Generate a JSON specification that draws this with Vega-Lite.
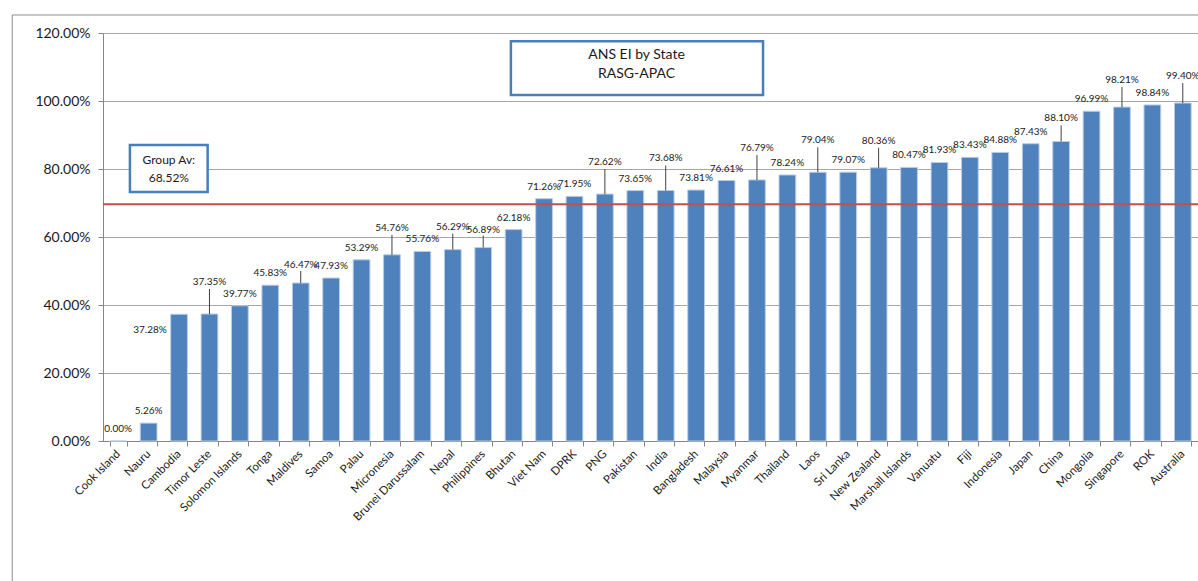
{
  "$schema": "https://vega.github.io/schema/vega-lite/v6.json",
  "autosize": "none",
  "width": 1095,
  "height": 408,
  "padding": {"left": 103, "top": 33, "right": 0, "bottom": 140},
  "background": "white",
  "config": {
    "view": {"stroke": null},
    "font": "Lato",
    "axis": {"labelFont": "Lato", "labelColor": "#1a1a1a"}
  },
  "data": {
    "values": [
      {"state": "Cook Island", "ei": 0.0},
      {"state": "Nauru", "ei": 0.0526},
      {"state": "Cambodia", "ei": 0.3728},
      {"state": "Timor Leste", "ei": 0.3735},
      {"state": "Solomon Islands", "ei": 0.3977},
      {"state": "Tonga", "ei": 0.4583},
      {"state": "Maldives", "ei": 0.4647},
      {"state": "Samoa", "ei": 0.4793},
      {"state": "Palau", "ei": 0.5329},
      {"state": "Micronesia", "ei": 0.5476},
      {"state": "Brunei Darussalam", "ei": 0.5576},
      {"state": "Nepal", "ei": 0.5629},
      {"state": "Philippines", "ei": 0.5689},
      {"state": "Bhutan", "ei": 0.6218},
      {"state": "Viet Nam", "ei": 0.7126},
      {"state": "DPRK", "ei": 0.7195},
      {"state": "PNG", "ei": 0.7262},
      {"state": "Pakistan", "ei": 0.7365},
      {"state": "India", "ei": 0.7368},
      {"state": "Bangladesh", "ei": 0.7381},
      {"state": "Malaysia", "ei": 0.7661},
      {"state": "Myanmar", "ei": 0.7679},
      {"state": "Thailand", "ei": 0.7824},
      {"state": "Laos", "ei": 0.7904},
      {"state": "Sri Lanka", "ei": 0.7907},
      {"state": "New Zealand", "ei": 0.8036},
      {"state": "Marshall Islands", "ei": 0.8047},
      {"state": "Vanuatu", "ei": 0.8193},
      {"state": "Fiji", "ei": 0.8343},
      {"state": "Indonesia", "ei": 0.8488},
      {"state": "Japan", "ei": 0.8743},
      {"state": "China", "ei": 0.881},
      {"state": "Mongolia", "ei": 0.9699},
      {"state": "Singapore", "ei": 0.9821},
      {"state": "ROK", "ei": 0.9884},
      {"state": "Australia", "ei": 0.994}
    ]
  },
  "resolve": {"scale": {"x": "independent"}},
  "layer": [
    {
      "encoding": {
        "x": {
          "field": "state", "type": "nominal", "sort": null, "title": null,
          "scale": {"paddingInner": 0.45, "paddingOuter": 0.225},
          "axis": {
            "title": null, "labelAngle": -45, "labelAlign": "right", "labelBaseline": "middle",
            "labelFontSize": 11.5, "labelPadding": 6, "tickBand": "extent", "tickSize": 5,
            "tickColor": "#868686", "domainColor": "#868686", "labelOverlap": false
          }
        },
        "y": {
          "field": "ei", "type": "quantitative", "title": null,
          "scale": {"domain": [0, 1.2], "nice": false},
          "axis": {
            "title": null, "format": ".2%", "values": [0, 0.2, 0.4, 0.6, 0.8, 1.0, 1.2],
            "labelFontSize": 14, "labelPadding": 8, "tickSize": 5, "tickColor": "#868686",
            "domainColor": "#868686", "gridColor": "#a6a6a6", "grid": true
          }
        }
      },
      "layer": [
        {
          "mark": {"type": "bar", "color": "#4f81bd", "stroke": "#b9cde5", "strokeWidth": 1}
        },
        {
          "transform": [{"filter": {"not": {"field": "state", "oneOf": ["Cambodia", "Timor Leste", "PNG", "India", "Myanmar", "Laos", "Micronesia", "New Zealand", "Singapore", "Australia", "Nepal", "China", "Maldives", "Philippines"]}}}],
          "mark": {"type": "text", "fontSize": 10, "dy": -12, "baseline": "middle", "color": "#1a1a1a"},
          "encoding": {"text": {"field": "ei", "type": "quantitative", "format": ".2%"}}
        },
        {
          "transform": [{"filter": {"field": "state", "oneOf": ["Cambodia"]}}],
          "mark": {"type": "text", "fontSize": 10, "dy": 16, "dx": -29, "baseline": "middle", "color": "#1a1a1a"},
          "encoding": {"text": {"field": "ei", "type": "quantitative", "format": ".2%"}}
        },
        {
          "transform": [{"filter": {"field": "state", "oneOf": ["Timor Leste", "PNG", "India", "Myanmar", "Laos"]}}],
          "mark": {"type": "text", "fontSize": 10, "dy": -32, "baseline": "middle", "color": "#1a1a1a"},
          "encoding": {"text": {"field": "ei", "type": "quantitative", "format": ".2%"}}
        },
        {
          "transform": [{"filter": {"field": "state", "oneOf": ["Timor Leste", "PNG", "India", "Myanmar", "Laos"]}}],
          "mark": {"type": "rule", "color": "#404040", "strokeWidth": 1, "y2Offset": -25},
          "encoding": {"y2": {"field": "ei"}}
        },
        {
          "transform": [{"filter": {"field": "state", "oneOf": ["Micronesia", "New Zealand", "Singapore", "Australia"]}}],
          "mark": {"type": "text", "fontSize": 10, "dy": -27, "baseline": "middle", "color": "#1a1a1a"},
          "encoding": {"text": {"field": "ei", "type": "quantitative", "format": ".2%"}}
        },
        {
          "transform": [{"filter": {"field": "state", "oneOf": ["Micronesia", "New Zealand", "Singapore", "Australia"]}}],
          "mark": {"type": "rule", "color": "#404040", "strokeWidth": 1, "y2Offset": -20},
          "encoding": {"y2": {"field": "ei"}}
        },
        {
          "transform": [{"filter": {"field": "state", "oneOf": ["Nepal", "China"]}}],
          "mark": {"type": "text", "fontSize": 10, "dy": -23, "baseline": "middle", "color": "#1a1a1a"},
          "encoding": {"text": {"field": "ei", "type": "quantitative", "format": ".2%"}}
        },
        {
          "transform": [{"filter": {"field": "state", "oneOf": ["Nepal", "China"]}}],
          "mark": {"type": "rule", "color": "#404040", "strokeWidth": 1, "y2Offset": -16},
          "encoding": {"y2": {"field": "ei"}}
        },
        {
          "transform": [{"filter": {"field": "state", "oneOf": ["Maldives", "Philippines"]}}],
          "mark": {"type": "text", "fontSize": 10, "dy": -18, "baseline": "middle", "color": "#1a1a1a"},
          "encoding": {"text": {"field": "ei", "type": "quantitative", "format": ".2%"}}
        },
        {
          "transform": [{"filter": {"field": "state", "oneOf": ["Maldives", "Philippines"]}}],
          "mark": {"type": "rule", "color": "#404040", "strokeWidth": 1, "y2Offset": -12},
          "encoding": {"y2": {"field": "ei"}}
        }
      ]
    },
    {
      "layer": [
        {
          "data": {"values": [{}]},
          "mark": {"type": "rect", "fill": null, "stroke": "#8c8c8c", "strokeWidth": 1, "clip": false},
          "encoding": {
            "x": {"datum": -2.984, "type": "quantitative", "scale": {"domain": [0, 36], "nice": false, "zero": false}, "axis": null},
            "x2": {"datum": 40},
            "y": {"datum": 1.253, "type": "quantitative"},
            "y2": {"datum": -0.5}
          }
        },
        {
          "data": {"values": [{}]},
          "mark": {"type": "rule", "color": "#c0504d", "strokeWidth": 2},
          "encoding": {"y": {"datum": 0.696, "type": "quantitative"}}
        },
        {
          "data": {"values": [{}]},
          "mark": {"type": "rect", "fill": "white", "stroke": "#4a7ebb", "strokeWidth": 2.5},
          "encoding": {
            "x": {"datum": 13.41, "type": "quantitative", "axis": null},
            "x2": {"datum": 21.7},
            "y": {"datum": 1.176, "type": "quantitative"},
            "y2": {"datum": 1.018}
          }
        },
        {
          "data": {"values": [{}]},
          "mark": {"type": "text", "fontSize": 14, "color": "#1a1a1a", "lineHeight": 19, "baseline": "middle", "align": "center"},
          "encoding": {
            "x": {"datum": 17.54, "type": "quantitative", "axis": null},
            "y": {"datum": 1.135, "type": "quantitative"},
            "text": {"value": ["ANS EI by State", "RASG-APAC"]}
          }
        },
        {
          "data": {"values": [{}]},
          "mark": {"type": "rect", "fill": "white", "stroke": "#4a7ebb", "strokeWidth": 2.5},
          "encoding": {
            "x": {"datum": 0.885, "type": "quantitative", "axis": null},
            "x2": {"datum": 3.44},
            "y": {"datum": 0.8706, "type": "quantitative"},
            "y2": {"datum": 0.732}
          }
        },
        {
          "data": {"values": [{}]},
          "mark": {"type": "text", "fontSize": 12, "color": "#1a1a1a", "lineHeight": 18, "baseline": "middle", "align": "center"},
          "encoding": {
            "x": {"datum": 2.164, "type": "quantitative", "axis": null},
            "y": {"datum": 0.8265, "type": "quantitative"},
            "text": {"value": ["Group Av:", "68.52%"]}
          }
        }
      ]
    }
  ]
}
